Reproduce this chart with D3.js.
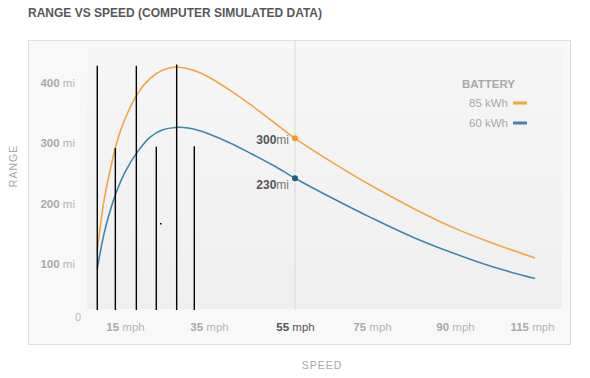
<!DOCTYPE html>
<html><head><meta charset="utf-8">
<script src="https://cdn.jsdelivr.net/npm/d3@7/dist/d3.min.js"></script>
<style>
body{margin:0;background:#fff;}
svg{display:block;font-family:"Liberation Sans",Arial,Helvetica,sans-serif;}
</style></head>
<body><svg id="c" width="590" height="378"></svg>
<script>
// ---- data ----
const speeds  = [8.4, 10, 12, 13, 15, 18, 21, 24, 27, 30, 33, 35, 40, 45, 50, 55, 65, 75, 82.5, 90, 102.5, 116];
const range85 = [122, 205, 272, 300, 340, 382, 407, 421, 426, 423, 416, 409, 387, 362, 335, 308, 267, 229, 192, 159, 134, 110];
const range60 = [92, 150, 200, 220, 252, 286, 310, 322, 326, 325, 320, 315, 300, 282, 263, 242, 208, 176, 144, 117, 95, 76];
const xTicks = [15, 35, 55, 75, 90, 115];
const yTicks = [100, 200, 300, 400];
const seriesNames = ["85 kWh", "60 kWh"];
const highlightSpeed = 55;
const highlightLabels = ["300", "230"];
const markerSpeeds = [8.4, 12.7, 17.7, 22.45, 27.3, 31.5];
const markerTops   = [428, 292, 428, 294, 430, 295];
const markerBottom = 24;

// ---- layout ----
const svg = d3.select("#c");
const x = d3.scaleLinear().domain(xTicks).range([125, 209, 295, 372, 455, 532]);
const y = d3.scaleLinear().domain([0, 400]).range([324.5, 82.7]);
const colors = ["#f3a540", "#3f86ad"];
const dotColors = ["#f39a2c", "#1f5f86"];

// title
svg.append("text").attr("x", 28).attr("y", 17)
  .attr("font-size", 12).attr("font-weight", "bold").attr("fill", "#585858")
  .text("RANGE VS SPEED (COMPUTER SIMULATED DATA)");

// panel
const defs = svg.append("defs");
const g = defs.append("linearGradient").attr("id", "pg").attr("x1", 0).attr("y1", 0).attr("x2", 0).attr("y2", 1);
g.append("stop").attr("offset", "0%").attr("stop-color", "#f6f6f6");
g.append("stop").attr("offset", "100%").attr("stop-color", "#efefef");
svg.append("rect").attr("x", 28.5).attr("y", 40.5).attr("width", 542).attr("height", 304)
  .attr("fill", "#f8f8f8").attr("stroke", "#dedede");
svg.append("rect").attr("x", 87).attr("y", 48).attr("width", 475).attr("height", 261)
  .attr("fill", "url(#pg)");

// highlight vertical line
svg.append("line").attr("x1", x(highlightSpeed)).attr("x2", x(highlightSpeed))
  .attr("y1", 40).attr("y2", 310).attr("stroke", "#d8d8d8").attr("stroke-width", 1);

// y axis
const yAx = svg.append("g").attr("transform", "translate(75,0)")
  .call(d3.axisLeft(y).tickValues(yTicks).tickSize(0).tickPadding(0));
yAx.select(".domain").remove();
yAx.selectAll("text").each(function(d) {
  const t = d3.select(this).text("").attr("font-size", 11.5).attr("font-family", null);
  t.append("tspan").attr("font-weight", "bold").attr("fill", "#a9a9a9").text(d);
  t.append("tspan").attr("fill", "#b5b5b5").text(" mi");
});
svg.append("text").attr("x", 78).attr("y", 321).attr("text-anchor", "middle")
  .attr("font-size", 11).attr("fill", "#bbbbbb").text("0");

// x axis
const xAx = svg.append("g").attr("transform", "translate(0,320)")
  .call(d3.axisBottom(x).tickValues(xTicks).tickSize(0).tickPadding(3));
xAx.select(".domain").remove();
xAx.selectAll("text").each(function(d) {
  const hi = d === highlightSpeed;
  const t = d3.select(this).text("").attr("font-size", 11.5).attr("font-family", null);
  t.append("tspan").attr("font-weight", "bold").attr("fill", hi ? "#555" : "#a9a9a9").text(d);
  t.append("tspan").attr("fill", hi ? "#555" : "#b5b5b5").text(" mph");
});

// axis titles
svg.append("text").attr("transform", "translate(17,166) rotate(-90)")
  .attr("text-anchor", "middle").attr("font-size", 10.5).attr("letter-spacing", 1)
  .attr("fill", "#a8a8a8").text("RANGE");
svg.append("text").attr("x", 322).attr("y", 369).attr("text-anchor", "middle")
  .attr("font-size", 10.5).attr("letter-spacing", 1).attr("fill", "#a8a8a8").text("SPEED");

// lines
const line = d3.line().x(d => x(d[0])).y(d => y(d[1])).curve(d3.curveCatmullRom.alpha(0.5));
[range85, range60].forEach((vals, i) => {
  svg.append("path").datum(speeds.map((s, k) => [s, vals[k]]))
    .attr("d", line).attr("fill", "none").attr("stroke", colors[i]).attr("stroke-width", 1.6);
});

// highlight dots and labels
const idx = speeds.indexOf(highlightSpeed);
[range85, range60].forEach((vals, i) => {
  svg.append("circle").attr("cx", x(highlightSpeed)).attr("cy", y(vals[idx])).attr("r", 3)
    .attr("fill", dotColors[i]);
  const t = svg.append("text").attr("x", x(highlightSpeed) - 6)
    .attr("y", y(vals[idx]) + (i === 0 ? 6 : 11)).attr("text-anchor", "end").attr("font-size", 12);
  t.append("tspan").attr("font-weight", "bold").attr("fill", "#555").text(highlightLabels[i]);
  t.append("tspan").attr("fill", "#777").text("mi");
});

// legend
svg.append("text").attr("x", 462).attr("y", 88).attr("font-size", 11.5).attr("font-weight", "bold")
  .attr("fill", "#a9a9a9").text("BATTERY");
seriesNames.forEach((n, i) => {
  const yy = 107 + i * 20;
  svg.append("text").attr("x", 508).attr("y", yy).attr("text-anchor", "end")
    .attr("font-size", 11.5).attr("fill", "#a9a9a9").text(n);
  svg.append("line").attr("x1", 513).attr("x2", 527).attr("y1", yy - 4).attr("y2", yy - 4)
    .attr("stroke", colors[i]).attr("stroke-width", 3);
});

// black marker lines
markerSpeeds.forEach((s, i) => {
  svg.append("line").attr("x1", x(s)).attr("x2", x(s))
    .attr("y1", y(markerTops[i])).attr("y2", y(markerBottom))
    .attr("stroke", "#000").attr("stroke-width", 1.4);
});
svg.append("rect").attr("x", 160).attr("y", 223).attr("width", 1.5).attr("height", 1.5).attr("fill", "#000");
</script></body></html>
